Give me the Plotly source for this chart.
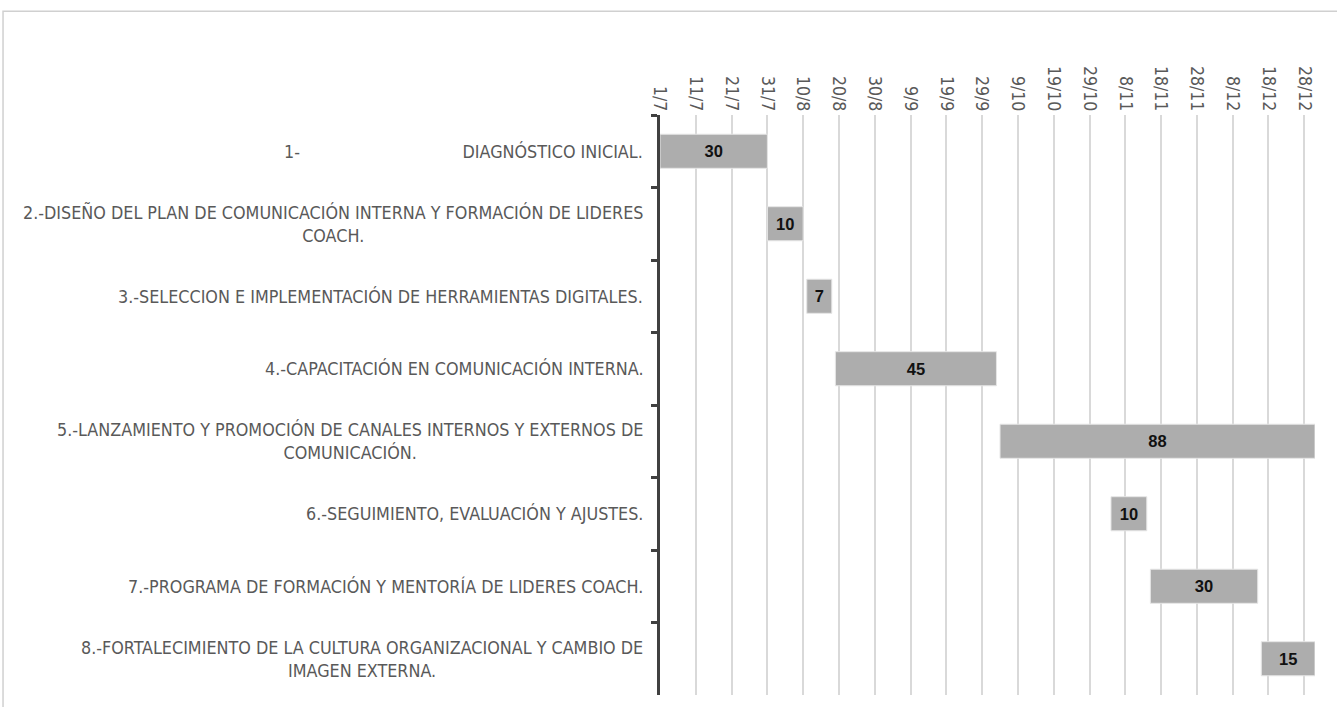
import plotly.graph_objects as go

tasks = [
    "1-" + "\u00a0" * 32 + "DIAGNÓSTICO INICIAL.",
    "2.-DISEÑO DEL PLAN DE COMUNICACIÓN INTERNA Y FORMACIÓN DE LIDERES<br>COACH.",
    "3.-SELECCION E IMPLEMENTACIÓN DE HERRAMIENTAS DIGITALES.",
    "4.-CAPACITACIÓN EN COMUNICACIÓN INTERNA.",
    "5.-LANZAMIENTO Y PROMOCIÓN DE CANALES INTERNOS Y EXTERNOS DE<br>COMUNICACIÓN.",
    "6.-SEGUIMIENTO, EVALUACIÓN Y AJUSTES.",
    "7.-PROGRAMA DE FORMACIÓN Y MENTORÍA DE LIDERES COACH.",
    "8.-FORTALECIMIENTO DE LA CULTURA ORGANIZACIONAL Y CAMBIO DE<br>IMAGEN EXTERNA.",
]
starts = ["2025-07-01", "2025-07-31", "2025-08-11", "2025-08-19",
          "2025-10-04", "2025-11-04", "2025-11-15", "2025-12-16"]
durations = [30, 10, 7, 45, 88, 10, 30, 15]

DAY_MS = 86400000
FONT = "Liberation Sans Narrow, DejaVu Sans Condensed, Arial Narrow, sans-serif"

fig = go.Figure()
fig.add_trace(go.Bar(
    y=tasks,
    x=[d * DAY_MS for d in durations],
    base=starts,
    orientation="h",
    marker=dict(color="#ADADAD", line=dict(color="#E6E6E6", width=1)),
    width=0.47,
    text=durations,
    texttemplate="<b>%{text}</b>",
    textposition="inside",
    insidetextanchor="middle",
    textangle=0,
    constraintext="none",
    textfont=dict(family="Liberation Sans, Arial, sans-serif", size=16.5, color="#111111"),
    hoverinfo="skip",
))

for t in tasks:
    fig.add_annotation(
        x=0, xref="paper", y=t, yref="y", xanchor="right", xshift=-15,
        text=t, showarrow=False, align="center",
        font=dict(family=FONT, size=17.8, color="#595959"),
    )

fig.update_xaxes(
    type="date",
    side="top",
    range=["2025-07-01", "2025-12-31"],
    tick0="2025-07-01",
    dtick=10 * DAY_MS,
    tickformat="%-d/%-m",
    tickangle=90,
    tickfont=dict(family=FONT, size=17.5, color="#595959"),
    showgrid=True,
    gridcolor="#D9D9D9",
    gridwidth=1.5,
    zeroline=False,
    ticks="",
)
fig.update_yaxes(
    autorange="reversed",
    showticklabels=False,
    showline=True,
    linecolor="#404040",
    linewidth=2.5,
    ticks="outside",
    tickson="boundaries",
    ticklen=6,
    tickwidth=2.5,
    tickcolor="#404040",
    showgrid=False,
    zeroline=False,
)

fig.add_shape(
    type="rect", xref="paper", yref="paper",
    x0=-1.003, x1=1.2, y0=-0.2, y1=1.179,
    line=dict(color="#D0D0D0", width=1.5), fillcolor="rgba(0,0,0,0)",
    layer="below",
)

fig.update_layout(
    width=1337, height=707,
    margin=dict(l=660, r=22, t=115, b=12),
    plot_bgcolor="white", paper_bgcolor="white",
    showlegend=False,
    bargap=0.5,
)

fig.write_html("out.html")
